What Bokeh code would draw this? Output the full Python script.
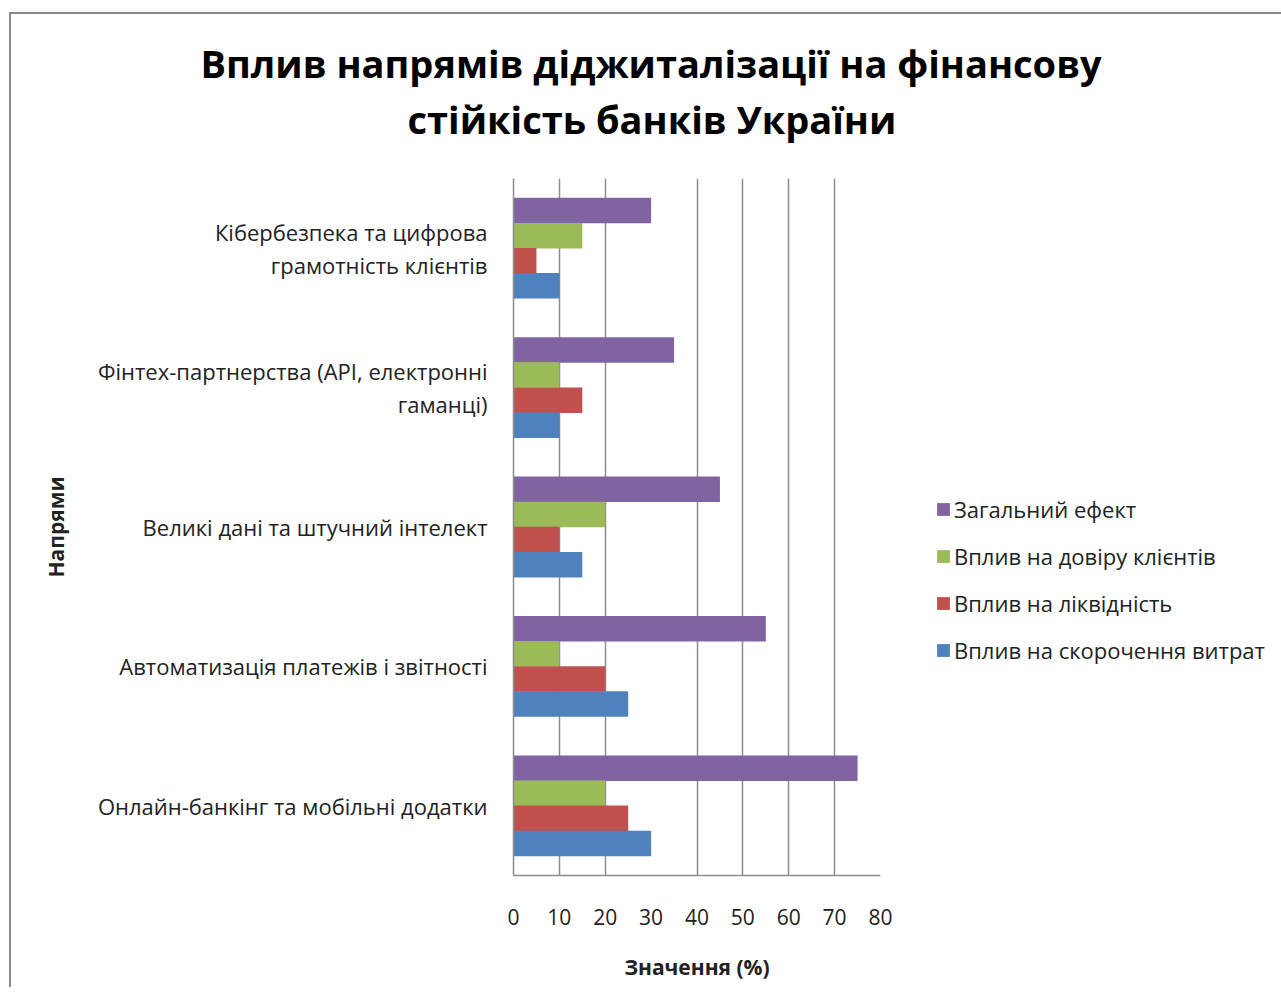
from bokeh.plotting import figure
from bokeh.models import FactorRange, Legend, LegendItem, FixedTicker, Title, ColumnDataSource
from bokeh.transform import dodge
from bokeh.embed import file_html
from bokeh.resources import INLINE

# ---- data (top-to-bottom as in the chart) ----
categories = [
    "Кібербезпека та цифрова\nграмотність клієнтів",
    "Фінтех-партнерства (API, електронні\nгаманці)",
    "Великі дані та штучний інтелект",
    "Автоматизація платежів і звітності",
    "Онлайн-банкінг та мобільні додатки",
]
total_effect = [30, 35, 45, 55, 75]
trust_effect = [15, 10, 20, 10, 20]
liquidity_effect = [5, 15, 10, 20, 25]
cost_effect = [10, 10, 15, 25, 30]

series_names = [
    "Загальний ефект",
    "Вплив на довіру клієнтів",
    "Вплив на ліквідність",
    "Вплив на скорочення витрат",
]
x_ticks = [0, 10, 20, 30, 40, 50, 60, 70, 80]
grid_ticks = [0, 10, 20, 40, 50, 60, 70, 80]
title_lines = ["Вплив напрямів діджиталізації на фінансову", "стійкість банків України"]

colors = ["#8064A2", "#9BBB59", "#C0504D", "#4F81BD"]
offsets = [0.27, 0.09, -0.09, -0.27]

src = ColumnDataSource(dict(cat=categories, s0=total_effect, s1=trust_effect,
                            s2=liquidity_effect, s3=cost_effect))

FONT = "Open Sans"
TXT = "#222222"

p = figure(
    frame_width=367, frame_height=697,
    y_range=FactorRange(factors=categories[::-1]),
    x_range=(0, 80),
    output_backend="svg", toolbar_location=None,
    min_border_left=502, min_border_right=390,
    min_border_top=164, min_border_bottom=112,
    margin=(12, 0, 0, 9),
)
p.styles = {"border-top": "2px solid #8a8a8a", "border-left": "2px solid #8a8a8a"}
p.outline_line_color = None
p.title = None

renderers = []
for i in range(4):
    r = p.hbar(y=dodge("cat", offsets[i], range=p.y_range), right=f"s{i}", left=0,
               height=0.183, source=src, fill_color=colors[i], line_color=None)
    renderers.append(r)

# title: two centred lines (line nearest the frame added first)
t2 = Title(text=title_lines[1], align="left", offset=-106, standoff=68,
           text_font=FONT, text_font_style="bold", text_font_size="38px", text_color="black")
t1 = Title(text=title_lines[0], align="left", offset=-313, standoff=-64,
           text_font=FONT, text_font_style="bold", text_font_size="38px", text_color="black")
p.add_layout(t2, "above")
p.add_layout(t1, "above")

# axes
xa = p.xaxis[0]
xa.ticker = FixedTicker(ticks=x_ticks)
xa.axis_label = "Значення (%)"
xa.axis_label_text_font = FONT
xa.axis_label_text_font_style = "bold"
xa.axis_label_text_font_size = "21px"
xa.axis_label_text_color = TXT
xa.axis_label_standoff = 25
xa.major_label_text_font = FONT
xa.major_label_text_font_size = "21px"
xa.major_label_text_color = TXT
xa.major_label_standoff = 27
xa.major_tick_line_color = None
xa.minor_tick_line_color = None
xa.axis_line_color = "#8c8c8c"
xa.axis_line_width = 1.5

ya = p.yaxis[0]
ya.axis_label = "Напрями"
ya.axis_label_text_font = FONT
ya.axis_label_text_font_style = "bold"
ya.axis_label_text_font_size = "21px"
ya.axis_label_text_color = TXT
ya.axis_label_standoff = 25
ya.major_label_text_font = FONT
ya.major_label_text_font_size = "22px"
ya.major_label_text_line_height = 1.1
ya.major_label_text_color = TXT
ya.major_label_standoff = 20
ya.major_tick_line_color = None
ya.axis_line_color = "#8c8c8c"
ya.axis_line_width = 1.5

p.ygrid.grid_line_color = None
p.xgrid.ticker = FixedTicker(ticks=grid_ticks)
p.xgrid.grid_line_color = "#8c8c8c"
p.xgrid.grid_line_width = 1.5

legend = Legend(
    items=[LegendItem(label=series_names[i], renderers=[renderers[i]]) for i in range(4)],
    location=(55, 210),
    orientation="vertical",
    label_text_font=FONT, label_text_font_size="22px", label_text_color=TXT,
    glyph_width=16, glyph_height=16, label_standoff=3,
    spacing=17, padding=0, margin=0,
    border_line_color=None, background_fill_alpha=0,
)
p.add_layout(legend, "right")

open("out.html", "w").write(file_html(p, INLINE))
